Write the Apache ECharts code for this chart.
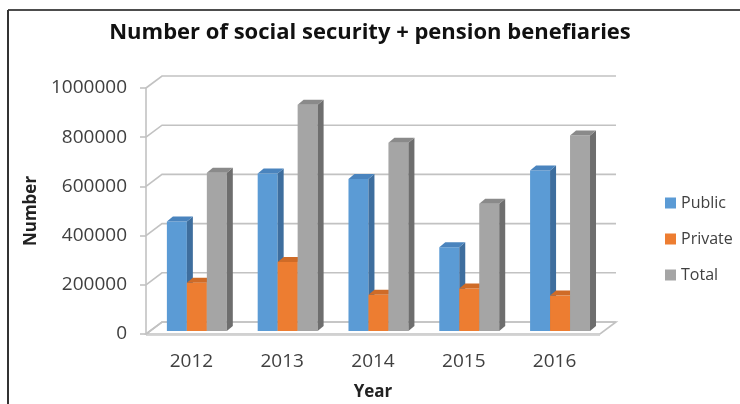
<!DOCTYPE html>
<html>
<head>
<meta charset="utf-8">
<script src="https://cdn.jsdelivr.net/npm/echarts@6/dist/echarts.min.js"></script>
<style>
  html, body { margin: 0; padding: 0; background: #fff; }
  #chart { width: 740px; height: 404px; }
</style>
</head>
<body>
<div id="chart"></div>
<script>
// Beneficiaries per year, by sector
const years = ['2012', '2013', '2014', '2015', '2016'];
const publicVals = [445000, 640000, 618000, 340000, 652000];
const privateVals = [196000, 280000, 147000, 173000, 144000];
const totalVals = [643000, 920000, 765000, 517000, 795000];
const seriesNames = ['Public', 'Private', 'Total'];
const yTicks = [0, 200000, 400000, 600000, 800000, 1000000];

// front / side / top shading of each column
const palette = [
  { front: '#5B9BD5', side: '#3E6E9E', top: '#4A84BE' },
  { front: '#ED7D31', side: '#AE5A21', top: '#CF6B27' },
  { front: '#A5A5A5', side: '#6E6E6E', top: '#8A8A8A' }
];

// depth of the plot box (back wall offset) and of each column
const WALL_DX = 16, WALL_DY = -12;
const BAR_DX = 6, BAR_DY = -5;
const GRID_COLOR = '#C2C2C2';
const FONT = 'Open Sans';

const chart = echarts.init(document.getElementById('chart'));

function wallItem(params, api) {
  const v = api.value(0);
  const p = api.coord([0, v]);
  const band = api.size([1, 0])[0];
  const xL = p[0] - band / 2;
  const xR = xL + band * years.length;
  const y = p[1];
  const children = [
    // side-wall diagonal and back-wall line
    { type: 'polyline', shape: { points: [[xL, y], [xL + WALL_DX, y + WALL_DY], [xR + WALL_DX, y + WALL_DY]] },
      style: { stroke: GRID_COLOR, lineWidth: 1.6, fill: null }, silent: true }
  ];
  if (v === 0) {
    // floor slab
    children.unshift({ type: 'polygon',
      shape: { points: [[xL, y], [xR, y], [xR + WALL_DX, y + WALL_DY], [xL + WALL_DX, y + WALL_DY]] },
      style: { fill: '#ffffff', stroke: GRID_COLOR, lineWidth: 1.6 }, silent: true });
    children.push({ type: 'line', shape: { x1: xL, y1: y + 1.5, x2: xR, y2: y + 1.5 },
      style: { stroke: '#D6D6D6', lineWidth: 1 }, silent: true });
  }
  return { type: 'group', children: children };
}

function makeBarRenderer(k) {
  const col = palette[k];
  return function (params, api) {
    const i = api.value(0);
    const v = api.value(1);
    const base = api.coord([i, 0]);
    const top = api.coord([i, v]);
    const band = api.size([1, 0])[0];
    const bw = band * 0.22;
    const center = base[0] + band * 0.06;
    const x = center + (k - 1.5) * bw;
    const y0 = base[1] - 3;
    const y1 = top[1] - 3;
    return {
      type: 'group',
      children: [
        { type: 'rect', shape: { x: x, y: y1, width: bw, height: y0 - y1 },
          style: { fill: col.front } },
        { type: 'polygon', shape: { points: [[x + bw, y1], [x + bw + BAR_DX, y1 + BAR_DY], [x + bw + BAR_DX, y0 + BAR_DY], [x + bw, y0]] },
          style: { fill: col.side } },
        { type: 'polygon', shape: { points: [[x, y1], [x + BAR_DX, y1 + BAR_DY], [x + bw + BAR_DX, y1 + BAR_DY], [x + bw, y1]] },
          style: { fill: col.top } }
      ]
    };
  };
}

const valueSets = [publicVals, privateVals, totalVals];

const barSeries = valueSets.map((vals, k) => ({
  name: seriesNames[k],
  type: 'custom',
  renderItem: makeBarRenderer(k),
  itemStyle: { color: palette[k].front },
  encode: { x: 0, y: 1 },
  data: vals.map((v, i) => [i, v]),
  z: 3
}));

const option = {
  animation: false,
  backgroundColor: '#ffffff',
  title: {
    text: 'Number of social security + pension benefiaries',
    left: 'center',
    top: 17,
    textStyle: { fontFamily: FONT, fontWeight: 'bold', fontSize: 22, color: '#111' }
  },
  grid: { left: 146, top: 88, width: 454, height: 246, containLabel: false, outerBoundsMode: 'none' },
  xAxis: {
    type: 'category',
    data: years,
    name: 'Year',
    nameLocation: 'middle',
    nameGap: 50,
    nameTextStyle: { fontFamily: FONT, fontWeight: 'bold', fontSize: 17, color: '#222' },
    axisLine: { show: false },
    axisTick: { show: false },
    axisLabel: { margin: 18, fontFamily: FONT, fontSize: 19, color: '#404040' }
  },
  yAxis: {
    type: 'value',
    min: 0,
    max: 1000000,
    interval: 200000,
    name: 'Number',
    nameLocation: 'middle',
    nameGap: 106,
    nameTextStyle: { fontFamily: FONT, fontWeight: 'bold', fontSize: 17, color: '#222' },
    axisLine: { show: true, lineStyle: { color: GRID_COLOR, width: 1.6 } },
    axisTick: { show: true, length: 6, lineStyle: { color: GRID_COLOR, width: 1.6 } },
    axisLabel: { margin: 19, fontFamily: FONT, fontSize: 19, color: '#404040',
      formatter: v => String(v) },
    splitLine: { show: false }
  },
  legend: {
    orient: 'vertical',
    left: 660,
    top: 189,
    itemWidth: 11,
    itemHeight: 11,
    itemGap: 18,
    icon: 'rect',
    data: seriesNames,
    textStyle: { fontFamily: FONT, fontSize: 16, color: '#404040', lineHeight: 18 }
  },
  graphic: [
    { type: 'line', shape: { x1: 8, y1: 10, x2: 740, y2: 10 }, style: { stroke: '#4d4d4d', lineWidth: 2 } },
    { type: 'line', shape: { x1: 8, y1: 10, x2: 8, y2: 404 }, style: { stroke: '#333', lineWidth: 2 } }
  ],
  series: [
    {
      type: 'custom',
      renderItem: wallItem,
      encode: { y: 0 },
      data: yTicks.map(v => [v]),
      silent: true,
      z: 1
    }
  ].concat(barSeries)
};

chart.setOption(option);
</script>
</body>
</html>
